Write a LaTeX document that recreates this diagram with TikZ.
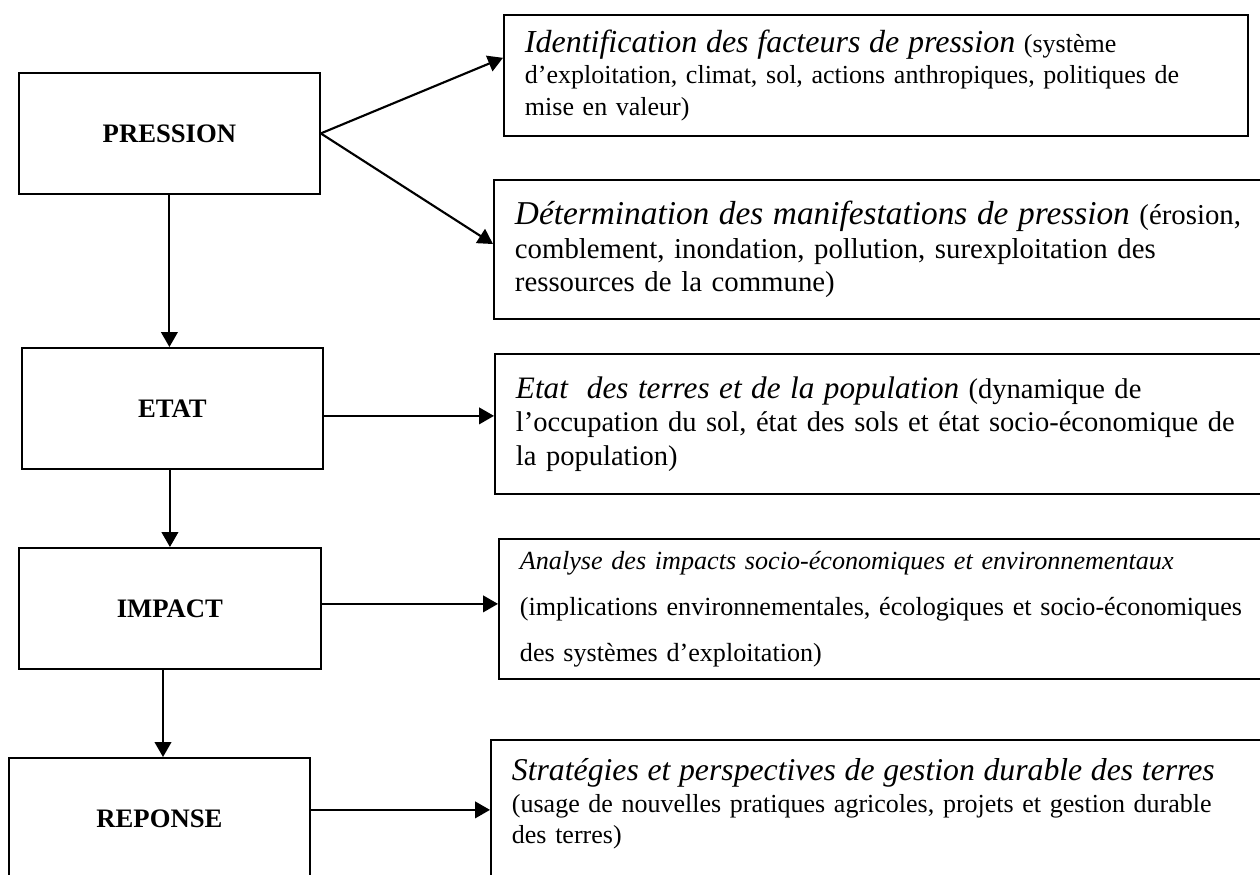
\documentclass[tikz,border=0pt]{standalone}
\usepackage{fontspec}
\setmainfont{Liberation Serif}
\usetikzlibrary{arrows.meta}

\tikzset{
  stage/.style={draw, line width=0.65pt, anchor=north west, minimum width=112.9pt,
    minimum height=45.4pt, inner sep=0pt, font=\fontsize{10}{12}\selectfont\bfseries},
  detail/.style={draw, line width=0.65pt, anchor=north west, align=left,
    inner xsep=7.9pt, inner ysep=0pt},
  link/.style={-{Triangle[length=5.6pt,width=6.2pt]}, line width=0.8pt}
}

\begin{document}
\begin{tikzpicture}[x=0.375pt, y=-0.375pt]
  \useasboundingbox (0,0) rectangle (1260,874);
  \clip (0,0) rectangle (1260,874);

  \node[stage] (pression) at (18,72) {PRESSION};
  \node[stage] (etat) at (21,347) {ETAT};
  \node[stage, minimum width=113.3pt] (impact) at (18,547) {IMPACT};
  \node[stage, minimum height=45.8pt] (reponse) at (8,757) {REPONSE};

  \node[detail, text width=263.2pt, minimum height=45.4pt,
    font=\fontsize{9.75}{11.8}\selectfont] (facteurs) at (503,14)
    {{\fontsize{12}{12}\selectfont\itshape Identification des facteurs de pression} (système\\
     d’exploitation, climat, sol, actions anthropiques, politiques de\\
     mise en valeur)};
  \node[detail, text width=283.1pt, minimum height=52.1pt,
    font=\fontsize{10.8}{12.6}\selectfont] (manifest) at (493,179)
    {{\fontsize{12.5}{12}\selectfont\itshape Détermination des manifestations de pression} (érosion,\\
     comblement, inondation, pollution, surexploitation des\\
     ressources de la commune)};
  \node[detail, text width=283pt, minimum height=52.5pt,
    font=\fontsize{10.7}{12.6}\selectfont] (terres) at (494,353)
    {{\fontsize{11.7}{12}\selectfont\itshape Etat~ des terres et de la population} (dynamique de\\
     l’occupation du sol, état des sols et état socio-économique de\\
     la population)};
  \node[detail, text width=281.2pt, minimum height=52.5pt,
    font=\fontsize{9.8}{17.25}\selectfont] (impacts) at (498,538)
    {{\itshape Analyse des impacts socio-économiques et environnementaux}\\
     (implications environnementales, écologiques et socio-économiques\\
     des systèmes d’exploitation)};
  \node[detail, text width=284pt, minimum height=52.9pt, text depth=30.5pt,
    font=\fontsize{9.75}{11.8}\selectfont] (strategies) at (490,739)
    {{\fontsize{11.9}{12}\selectfont\itshape Stratégies et perspectives de gestion durable des terres}\\
     (usage de nouvelles pratiques agricoles, projets et gestion durable\\
     des terres)};

  \begin{scope}[link]
    \draw (pression.east) -- ([yshift=6.6pt]facteurs.west);
    \draw (pression.east) -- ([yshift=2pt]manifest.west);
    \draw (pression.south) -- (pression.south |- etat.north);
    \draw ([yshift=-2.8pt]etat.east) -- ([yshift=-2.8pt]etat.east -| terres.west);
    \draw (impact.north |- etat.south) -- (impact.north);
    \draw ([yshift=1.7pt]impact.east) -- ([yshift=1.7pt]impact.east -| impacts.west);
    \draw ([xshift=-2.6pt]impact.south) -- ([xshift=-2.6pt]impact.south |- reponse.north);
    \draw ([yshift=3.4pt]reponse.east) -- ([yshift=3.4pt]reponse.east -| strategies.west);
  \end{scope}
\end{tikzpicture}
\end{document}
